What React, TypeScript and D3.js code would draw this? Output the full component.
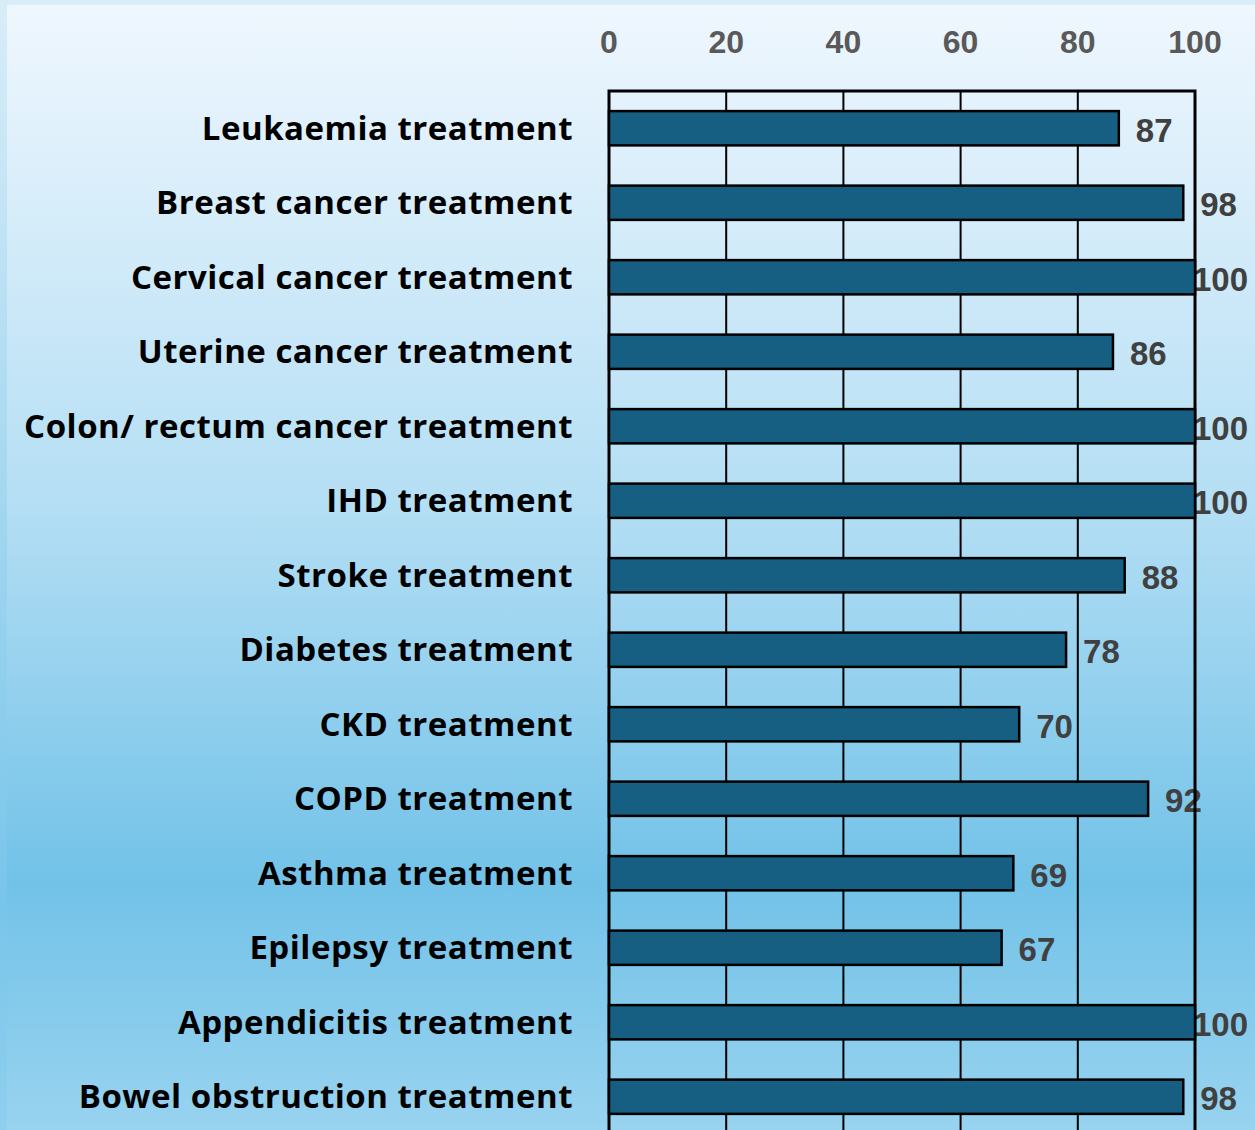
import React, { useEffect, useRef } from "react";
import * as d3 from "d3";

const categories = [
  "Leukaemia treatment",
  "Breast cancer treatment",
  "Cervical cancer treatment",
  "Uterine cancer treatment",
  "Colon/ rectum cancer treatment",
  "IHD treatment",
  "Stroke treatment",
  "Diabetes treatment",
  "CKD treatment",
  "COPD treatment",
  "Asthma treatment",
  "Epilepsy treatment",
  "Appendicitis treatment",
  "Bowel obstruction treatment",
];
const values = [87, 98, 100, 86, 100, 100, 88, 78, 70, 92, 69, 67, 100, 98];
const tickValues = [0, 20, 40, 60, 80, 100];

const W = 1255;
const H = 1130;

export default function App() {
  const ref = useRef<SVGSVGElement>(null);

  useEffect(() => {
    const svg = d3.select(ref.current);
    svg.selectAll("*").remove();

    const defs = svg.append("defs");
    const og = defs.append("linearGradient").attr("id", "outerG").attr("x1", 0).attr("y1", 0).attr("x2", 0).attr("y2", 1);
    og.append("stop").attr("offset", "0").attr("stop-color", "#d9edf8");
    og.append("stop").attr("offset", "0.8").attr("stop-color", "#78c5ea");
    og.append("stop").attr("offset", "1").attr("stop-color", "#8fcfee");
    const ig = defs.append("linearGradient").attr("id", "innerG").attr("x1", 0).attr("y1", 0).attr("x2", 0).attr("y2", 1);
    ig.append("stop").attr("offset", "0").attr("stop-color", "#eff7fe");
    ig.append("stop").attr("offset", "0.45").attr("stop-color", "#b3def4");
    ig.append("stop").attr("offset", "0.78").attr("stop-color", "#72c2e8");
    ig.append("stop").attr("offset", "1").attr("stop-color", "#98d3ef");

    svg.append("rect").attr("x", 0).attr("y", 0).attr("width", W).attr("height", H).attr("fill", "url(#outerG)");
    svg.append("rect").attr("x", 7).attr("y", 5).attr("width", W - 7).attr("height", H - 5).attr("fill", "url(#innerG)");

    const x = d3.scaleLinear().domain([0, 100]).range([609, 1195]);
    const y = d3.scaleBand<string>().domain(categories).range([91, 91 + 74.5 * categories.length]).paddingInner(0.54).paddingOuter(0.27);

    const font = "'Liberation Sans', Arial, sans-serif";

    // tick labels
    svg.append("g").selectAll("text").data(tickValues).join("text")
      .attr("x", (d) => x(d))
      .attr("y", 42)
      .attr("text-anchor", "middle")
      .attr("dominant-baseline", "central")
      .attr("font-family", font)
      .attr("font-weight", 700)
      .attr("font-size", 32)
      .attr("fill", "#595959")
      .text((d) => String(d));

    // category labels
    svg.append("g").selectAll("text").data(categories).join("text")
      .attr("x", 573)
      .attr("y", (d) => (y(d) as number) + y.bandwidth() / 2 - 1)
      .attr("text-anchor", "end")
      .attr("dominant-baseline", "central")
      .attr("font-family", "'Open Sans', Inter, sans-serif")
      .attr("font-weight", 700)
      .attr("font-size", 33)
      .attr("letter-spacing", 0.5)
      .attr("fill", "#000")
      .text((d) => d);

    // value labels (drawn beneath grid and bars)
    const vl = svg.append("g").selectAll("text").data(values).join("text")
      .attr("y", (_d, i) => (y(categories[i]) as number) + y.bandwidth() / 2 + 2)
      .attr("dominant-baseline", "central")
      .attr("font-family", font)
      .attr("font-weight", 700)
      .attr("font-size", 33)
      .attr("fill", "#404040")
      .text((d) => String(d));
    vl.each(function (d) {
      const t = this as SVGTextElement;
      const w = t.getComputedTextLength();
      const xs = Math.min(x(d) + 17, 1248 - w);
      d3.select(t).attr("x", xs);
    });

    // grid lines
    svg.append("g").selectAll("line").data(tickValues.slice(1, -1)).join("line")
      .attr("x1", (d) => x(d)).attr("x2", (d) => x(d))
      .attr("y1", 91).attr("y2", H)
      .attr("stroke", "#000").attr("stroke-width", 2);
    // frame
    svg.append("path")
      .attr("d", `M${x(0)},${H} V91 H${x(100)} V${H}`)
      .attr("fill", "none").attr("stroke", "#000").attr("stroke-width", 3);

    // bars
    svg.append("g").selectAll("rect").data(values).join("rect")
      .attr("x", x(0))
      .attr("y", (_d, i) => y(categories[i]) as number)
      .attr("width", (d) => x(d) - x(0))
      .attr("height", y.bandwidth())
      .attr("fill", "#175f82")
      .attr("stroke", "#000")
      .attr("stroke-width", 2.5);
  }, []);

  return (
    <svg ref={ref} width={W} height={H} style={{ position: "absolute", left: 0, top: 0, display: "block" }} />
  );
}
